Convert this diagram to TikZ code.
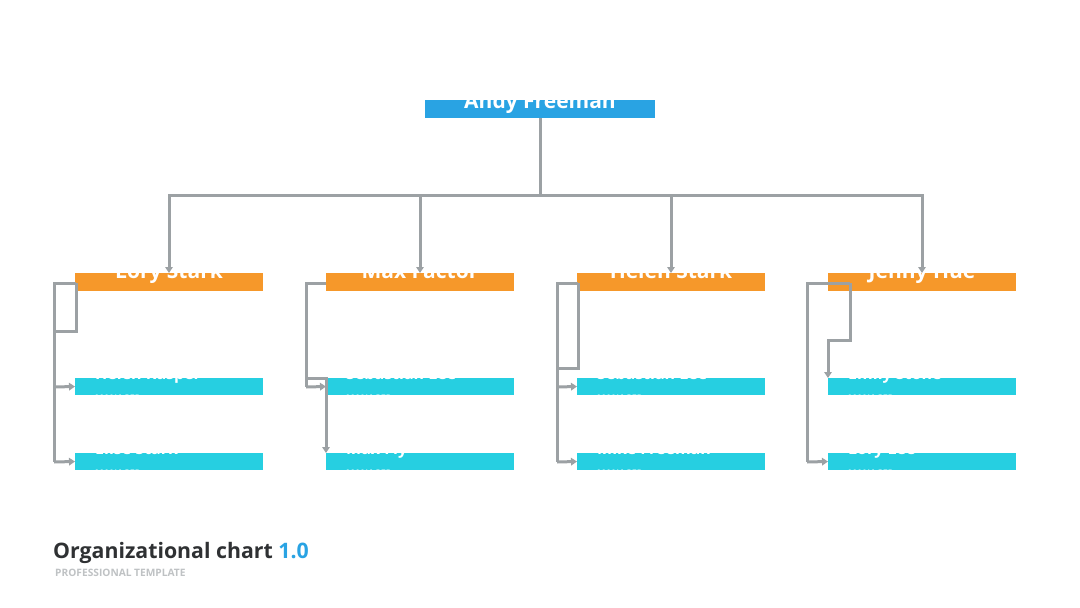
\documentclass[tikz,border=0pt]{standalone}
\usepackage{fontspec}
\setmainfont{Open Sans}
\usetikzlibrary{arrows.meta}
\definecolor{topblue}{HTML}{29A3E3}
\definecolor{orangeb}{HTML}{F6982A}
\definecolor{cyanb}{HTML}{26CFE1}
\definecolor{linegray}{HTML}{9CA1A4}
\definecolor{titledark}{HTML}{2F3133}
\definecolor{subgray}{HTML}{BFC2C4}
\tikzset{
  box/.style={draw=none,anchor=north west,inner sep=0pt,outer sep=0pt,minimum height=18pt,minimum width=188pt},
  topbox/.style={box,fill=topblue,minimum width=230pt,minimum height=18pt},
  headbox/.style={box,fill=orangeb},
  staffbox/.style={box,fill=cyanb,minimum height=17pt},
  conn/.style={draw=linegray,line width=3pt},
  arr/.style={conn,-{Triangle[length=6pt,width=7.5pt]}},
  bigname/.style={text=white,font=\fontsize{21}{21}\selectfont\bfseries,anchor=base,inner sep=0pt},
  headname/.style={text=white,font=\fontsize{21}{21}\selectfont\bfseries,anchor=base,inner sep=0pt},
  staffname/.style={text=white,font=\fontsize{16}{16}\selectfont\bfseries,anchor=base west,inner sep=0pt},
  staffrole/.style={text=white,font=\fontsize{9}{9}\selectfont\bfseries,anchor=base west,inner sep=0pt},
}
\begin{document}
\begin{tikzpicture}[x=1pt,y=-1pt]
\useasboundingbox[fill=white] (0,0) rectangle (1080,608);

% top
\node[topbox] (top) at (425,100) {};
\node[bigname] (topname) at (540,108) {Andy Freeman};

% heads
\node[headbox] (h1) at (75,273) {};
\node[headbox] (h2) at (326,273) {};
\node[headbox] (h3) at (577,273) {};
\node[headbox] (h4) at (828,273) {};
\node[headname] (h1n) at (169,278) {Lory Stark};
\node[headname] (h2n) at (420,278) {Max Factor};
\node[headname] (h3n) at (671,278) {Helen Stark};
\node[headname] (h4n) at (922,278) {Jenny Hue};

% staff boxes
\foreach \c/\x in {1/75,2/326,3/577,4/828}{
  \node[staffbox] (s\c a) at (\x,378) {};
  \node[staffbox] (s\c b) at (\x,453) {};
}
% staff names
\node[staffname] (n1a) at (95,379) {Helen Kasper};
\node[staffrole] (r1a) at (95,401) {MANAGER};
\node[staffname] (n1b) at (95,454) {Elise Stark};
\node[staffrole] (r1b) at (95,476) {MANAGER};
\node[staffname] (n2a) at (346,379) {Sebastian Lee};
\node[staffrole] (r2a) at (346,401) {MANAGER};
\node[staffname] (n2b) at (346,454) {Max Fly};
\node[staffrole] (r2b) at (346,476) {MANAGER};
\node[staffname] (n3a) at (597,379) {Sebastian Lee};
\node[staffrole] (r3a) at (597,401) {MANAGER};
\node[staffname] (n3b) at (597,454) {Mike Freeman};
\node[staffrole] (r3b) at (597,476) {MANAGER};
\node[staffname] (n4a) at (848,379) {Emily Stone};
\node[staffrole] (r4a) at (848,401) {MANAGER};
\node[staffname] (n4b) at (848,454) {Lory Lee};
\node[staffrole] (r4b) at (848,476) {MANAGER};

% top connectors
\coordinate (hub) at (540,195);
\draw[conn] (top.south) -- (hub);
\draw[arr] (hub) -| (h1.north);
\draw[arr] (hub) -| (h2.north);
\draw[arr] (hub) -| (h3.north);
\draw[arr] (hub) -| (h4.north);

% column 1
\coordinate (c1a) at (76,283);
\coordinate (c1b) at (54,331);
\draw[conn] (c1a) -- (54,283) -- (54,462);
\draw[arr] (54,462) -- (s1b.west);
\draw[conn] (c1a) -- (76,331) -- (c1b);
\draw[arr] (54,387) -- (s1a.west);

% column 2
\coordinate (c2a) at (326,283);
\draw[conn] (c2a) -- (306,283) -- (306,387);
\draw[arr] (306,387) -- (s2a.west);
\coordinate (c2b) at (306,378);
\draw[arr] (c2b) -- (326,378) -- (s2b.north west);

% column 3
\coordinate (c3a) at (578,283);
\draw[conn] (c3a) -- (557,283) -- (557,462);
\draw[conn] (c3a) -- (578,368) -- (557,368);
\draw[arr] (557,387) -- (s3a.west);
\draw[arr] (557,462) -- (s3b.west);

% column 4
\coordinate (c4a) at (850,283);
\draw[conn] (c4a) -- (807,283) -- (807,462);
\draw[arr] (807,462) -- (s4b.west);
\draw[arr] (c4a) -- (850,340) -- (828,340) -- (s4a.north west);

% title
\node[anchor=base west,inner sep=0pt,text=titledark,font=\fontsize{21.3}{22}\selectfont\bfseries] (title) at (53,558) {Organizational chart \textcolor{topblue}{1.0}};
\node[anchor=base west,inner sep=0pt,text=subgray,font=\fontsize{10.2}{10.2}\selectfont\bfseries] (subtitle) at (55,576) {PROFESSIONAL TEMPLATE};
\end{tikzpicture}
\end{document}
